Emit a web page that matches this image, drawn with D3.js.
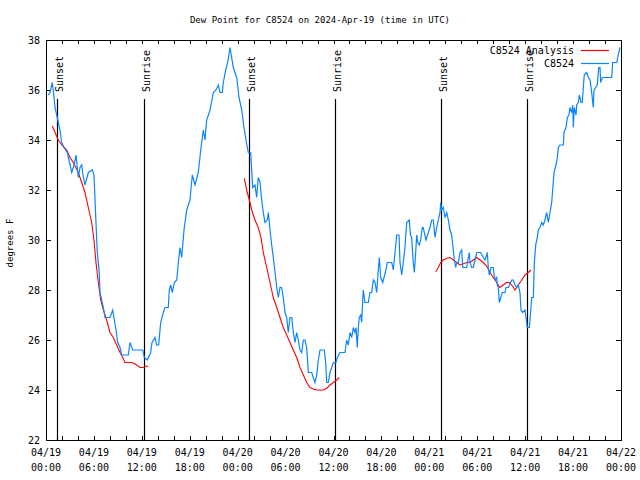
<!DOCTYPE html>
<html><head><meta charset="utf-8">
<script src="https://cdn.jsdelivr.net/npm/d3@7"></script>
<style>body{margin:0;background:#fff}svg{display:block}text{font-family:"DejaVu Sans Mono",monospace;fill:#000}</style>
</head><body><svg id="c" width="640" height="480"></svg>
<script>
// ---- data (hours since 2024-04-19 00:00 UTC) ----
const obsHours = [0.29,0.5,0.79,0.94,1.13,1.41,1.75,1.97,2.25,2.67,2.88,3.22,3.51,3.76,4.04,4.26,4.47,4.63,4.88,5.13,5.3,5.8,6.01,6.14,6.35,6.42,6.67,6.76,7.18,7.39,8.01,8.35,8.51,8.77,8.98,9.27,9.48,10.31,10.52,10.86,11.77,12.11,12.31,12.68,13.11,13.27,13.65,13.86,14.11,14.19,14.36,14.69,14.9,15.31,15.44,15.61,15.82,16.07,16.37,16.57,16.78,16.99,17.28,17.62,18.03,18.32,18.66,19.07,19.41,19.7,19.91,20.12,20.54,20.95,21.29,21.58,21.79,22.08,22.2,22.5,22.75,23.04,23.25,23.45,23.88,24.17,24.51,24.79,25.04,25.33,25.63,25.76,25.88,26.17,26.38,26.58,26.8,27.01,27.21,27.42,27.71,27.84,28.05,28.26,28.46,28.68,28.89,29.09,29.3,29.51,29.71,29.93,30.14,30.34,30.55,30.77,30.97,31.18,31.39,31.59,31.81,32.02,32.22,32.43,32.64,32.85,33.27,33.47,33.68,33.9,34.1,34.31,34.85,35.02,35.15,35.35,35.56,35.78,35.98,36.31,36.48,36.81,37.44,37.65,37.85,38.07,38.28,38.48,38.69,38.82,38.98,39.11,39.23,39.41,39.53,39.66,39.73,39.94,40.36,40.57,40.78,40.99,41.2,41.41,41.61,41.74,41.91,42.16,42.32,42.49,42.74,43.29,43.49,43.7,43.91,44.2,44.33,44.54,44.74,44.95,45.17,45.49,45.64,45.79,45.99,46.12,46.29,46.42,46.55,46.75,46.92,47.12,47.24,47.58,47.87,48.08,48.3,48.5,48.71,48.92,49.12,49.34,49.42,49.55,49.75,49.96,50.18,50.38,50.59,50.8,51.0,51.13,51.3,51.43,51.63,51.84,52.05,52.18,52.68,52.88,53.01,53.09,53.31,53.51,53.72,53.93,54.43,54.76,54.97,55.18,55.26,55.38,55.51,55.72,56.01,56.1,56.26,56.44,56.51,56.64,56.76,56.94,57.14,57.48,57.6,57.89,58.32,58.52,58.73,58.94,59.14,59.35,59.48,59.69,59.98,60.1,60.27,60.52,60.61,60.82,61.02,61.15,61.32,61.52,61.65,61.86,62.07,62.27,62.48,62.7,62.9,63.11,63.32,63.52,63.61,63.86,64.03,64.15,64.36,64.78,64.86,65.11,65.28,65.49,65.61,65.83,65.95,66.03,66.15,66.37,66.45,66.65,66.78,66.99,67.15,67.28,67.4,67.71,67.91,68.12,68.33,68.46,68.53,68.62,69.03,69.21,69.37,69.46,69.66,70.84,70.96,71.46,71.66,71.87];
const obsValues = [35.8,35.9,36.3,35.9,35.3,34.9,34.4,33.9,33.7,33.5,33.2,32.7,33.0,33.4,32.5,32.9,33.0,32.6,32.2,32.5,32.7,32.8,32.6,31.6,30.0,29.5,28.7,27.9,27.3,26.9,26.9,27.2,26.9,26.4,25.9,25.7,25.4,25.4,25.9,25.6,25.6,25.6,25.3,25.2,25.5,25.9,26.1,25.8,25.8,26.1,26.7,27.1,27.3,27.3,28.0,28.2,27.9,28.3,28.4,29.1,29.7,29.3,30.4,31.2,31.6,32.6,32.2,32.7,33.7,34.4,34.0,34.8,35.2,35.9,36.0,36.2,35.9,35.9,36.3,36.8,37.1,37.7,37.3,36.9,36.5,35.7,35.2,34.5,34.0,33.5,33.5,32.8,32.1,32.2,31.7,32.5,32.3,31.6,31.1,30.7,30.8,31.1,30.4,29.8,29.3,28.7,28.1,27.7,28.1,28.1,27.7,27.1,26.9,26.3,26.9,26.9,26.3,25.9,26.3,26.0,25.6,25.5,26.0,26.0,25.7,24.7,24.7,24.5,24.3,24.6,25.2,25.6,25.6,25.1,24.3,24.3,24.7,24.9,25.1,25.1,25.3,25.5,25.5,26.0,25.8,26.3,26.1,26.5,26.3,26.5,25.7,26.5,26.9,27.0,26.7,27.6,28.0,27.5,27.5,27.9,27.9,28.4,28.3,27.9,28.8,29.3,28.5,28.3,28.5,28.7,29.1,29.1,28.8,29.5,30.2,30.2,29.1,28.6,29.1,29.7,30.7,30.8,30.2,30.1,29.1,28.7,29.5,30.2,29.9,29.8,30.0,30.5,30.5,30.0,30.3,30.5,30.8,30.8,30.1,30.5,30.8,31.1,31.5,31.2,31.3,30.9,31.1,30.8,30.4,30.2,29.6,29.2,28.9,29.1,29.1,29.5,29.6,28.9,28.9,29.3,29.5,29.1,28.9,28.9,29.2,29.5,29.5,29.3,29.2,29.4,29.5,28.9,28.6,28.9,28.9,28.6,28.4,28.5,28.2,28.1,27.5,27.7,27.9,27.9,28.1,28.1,28.4,28.4,28.2,28.1,28.2,27.9,27.2,27.1,27.2,26.9,26.5,26.5,26.8,27.7,27.7,29.1,29.8,30.1,30.4,30.5,30.7,30.6,30.8,31.1,30.7,31.1,31.5,32.3,32.7,33.0,33.3,33.7,33.8,33.8,34.3,34.5,34.9,35.0,35.3,35.1,35.4,34.5,35.3,35.0,35.4,35.5,35.8,35.5,35.5,36.1,36.6,36.7,36.5,36.4,35.9,35.5,35.3,36.0,36.2,36.9,36.9,36.3,36.5,36.5,37.1,37.1,37.4,37.7];

const analysis1Hours = [0.79,1.13,1.54,1.97,2.59,3.0,3.42,4.04,4.47,4.88,5.3,5.72,6.01,6.26,6.55,6.85,7.1,7.39,7.68,8.01,8.43,8.85,9.27,9.6,9.89,10.73,11.14,11.77,12.18,12.52,12.81];
const analysis1Values = [34.56,34.3,34.0,33.8,33.6,33.3,33.1,32.7,32.3,31.9,31.3,30.7,30.0,29.1,28.3,27.6,27.3,27.0,26.7,26.3,26.1,25.8,25.5,25.3,25.1,25.1,25.05,24.9,24.9,24.95,24.95];
const analysis2Hours = [24.83,25.13,25.46,25.76,26.17,26.58,26.92,27.21,27.64,28.05,28.46,28.89,29.3,29.71,30.14,30.55,30.97,31.39,31.81,32.22,32.64,33.06,33.47,33.9,34.72,35.15,35.56,35.98,36.4,36.73];
const analysis2Values = [32.47,32.0,31.6,31.2,30.8,30.5,30.1,29.5,28.9,28.3,27.7,27.3,26.9,26.5,26.2,25.9,25.6,25.3,24.9,24.6,24.3,24.1,24.04,24.0,24.0,24.07,24.2,24.3,24.4,24.5];
const analysis3Hours = [48.8,49.12,49.42,49.75,50.18,50.59,51.0,51.43,51.84,52.26,52.68,53.09,53.51,53.93,54.35,54.76,55.18,55.6,56.01,56.44,56.85,57.26,57.69,58.01,58.32,58.73,59.14,59.57,59.98,60.39,60.73];
const analysis3Values = [28.73,28.9,29.1,29.2,29.27,29.3,29.2,29.1,29.0,29.05,29.1,29.1,29.2,29.3,29.2,29.1,28.96,28.7,28.5,28.3,28.1,28.2,28.3,28.3,28.2,28.0,28.2,28.4,28.6,28.7,28.8];

const sunEventHours = [1.38,12.3,25.46,36.2,49.5,60.27];
const sunEventLabels = ["Sunset","Sunrise","Sunset","Sunrise","Sunset","Sunrise"];

const xTickHours = [0,6,12,18,24,30,36,42,48,54,60,66,72];
const xTickDates = ["04/19","04/19","04/19","04/19","04/20","04/20","04/20","04/20","04/21","04/21","04/21","04/21","04/22"];
const xTickTimes = ["00:00","06:00","12:00","18:00","00:00","06:00","12:00","18:00","00:00","06:00","12:00","18:00","00:00"];
const yTicks = [22,24,26,28,30,32,34,36,38];

const titleText = "Dew Point for C8524 on 2024-Apr-19 (time in UTC)";
const yLabelText = "degrees F";
const seriesNames = ["C8524 Analysis","C8524"];
const seriesColors = ["#ff0000","#0a84ff"];

// ---- drawing ----
const svg = d3.select("#c");
const L=46, R=621, T=40, B=440;
const x = d3.scaleLinear().domain([0,72]).range([L,R]);
const y = d3.scaleLinear().domain([22,38]).range([B,T]);

svg.append("text").attr("x",320).attr("y",23).attr("text-anchor","middle")
  .style("font-size","9px").text(titleText);
svg.append("text").attr("transform","translate(13,243) rotate(-90)").attr("text-anchor","middle")
  .style("font-size","9px").text(yLabelText);

const g = svg.append("g");
const minorTicks = d3.range(0,73,2);
const axB = d3.axisBottom(x).tickValues(minorTicks).tickSize(-4).tickFormat("");
const axT = d3.axisTop(x).tickValues(minorTicks).tickSize(-4).tickFormat("");
const axL = d3.axisLeft(y).tickValues(yTicks).tickSize(-5).tickFormat("");
const axR = d3.axisRight(y).tickValues(yTicks).tickSize(-5).tickFormat("");
[[axB,`translate(0,${B})`],[axT,`translate(0,${T})`],[axL,`translate(${L},0)`],[axR,`translate(${R},0)`]].forEach(([a,t])=>{
  const gg = g.append("g").attr("transform",t).call(a);
  gg.select(".domain").remove();
  gg.selectAll("line").attr("stroke","#000").attr("shape-rendering","crispEdges");
});
g.append("rect").attr("x",L+0.5).attr("y",T+0.5).attr("width",R-L).attr("height",B-T)
  .attr("fill","none").attr("stroke","#000").attr("shape-rendering","crispEdges");

yTicks.forEach(v=>{
  svg.append("text").attr("x",40).attr("y",y(v)+4).attr("text-anchor","end").style("font-size","10px").text(v);
});
xTickHours.forEach((h,i)=>{
  svg.append("text").attr("x",x(h)).attr("y",456).attr("text-anchor","middle").style("font-size","10px").text(xTickDates[i]);
  svg.append("text").attr("x",x(h)).attr("y",471).attr("text-anchor","middle").style("font-size","10px").text(xTickTimes[i]);
});

sunEventHours.forEach((h,i)=>{
  const xx = Math.round(x(h))+0.5;
  svg.append("line").attr("x1",xx).attr("x2",xx).attr("y1",99).attr("y2",B)
    .attr("stroke","#000").attr("stroke-width",1.2);
  svg.append("text").attr("transform",`translate(${xx+5},92) rotate(-90)`)
    .style("font-size","10px").text(sunEventLabels[i]);
});

const line = d3.line().x(d=>x(d[0])).y(d=>y(d[1]));
[[analysis1Hours,analysis1Values],[analysis2Hours,analysis2Values],[analysis3Hours,analysis3Values]].forEach(([hs,vs])=>{
  svg.append("path").attr("d",line(d3.zip(hs,vs))).attr("fill","none")
    .attr("stroke",seriesColors[0]).attr("stroke-width",1.1);
});
svg.append("path").attr("d",line(d3.zip(obsHours,obsValues))).attr("fill","none")
  .attr("stroke",seriesColors[1]).attr("stroke-width",1.2).attr("stroke-linejoin","miter");

seriesNames.forEach((n,i)=>{
  const yy = 50 + i*13;
  svg.append("text").attr("x",574).attr("y",yy+4).attr("text-anchor","end").style("font-size","10px").text(n);
  svg.append("line").attr("x1",581).attr("x2",609).attr("y1",yy+0.5).attr("y2",yy+0.5)
    .attr("stroke",seriesColors[i]).attr("stroke-width",1.2);
});
</script></body></html>
